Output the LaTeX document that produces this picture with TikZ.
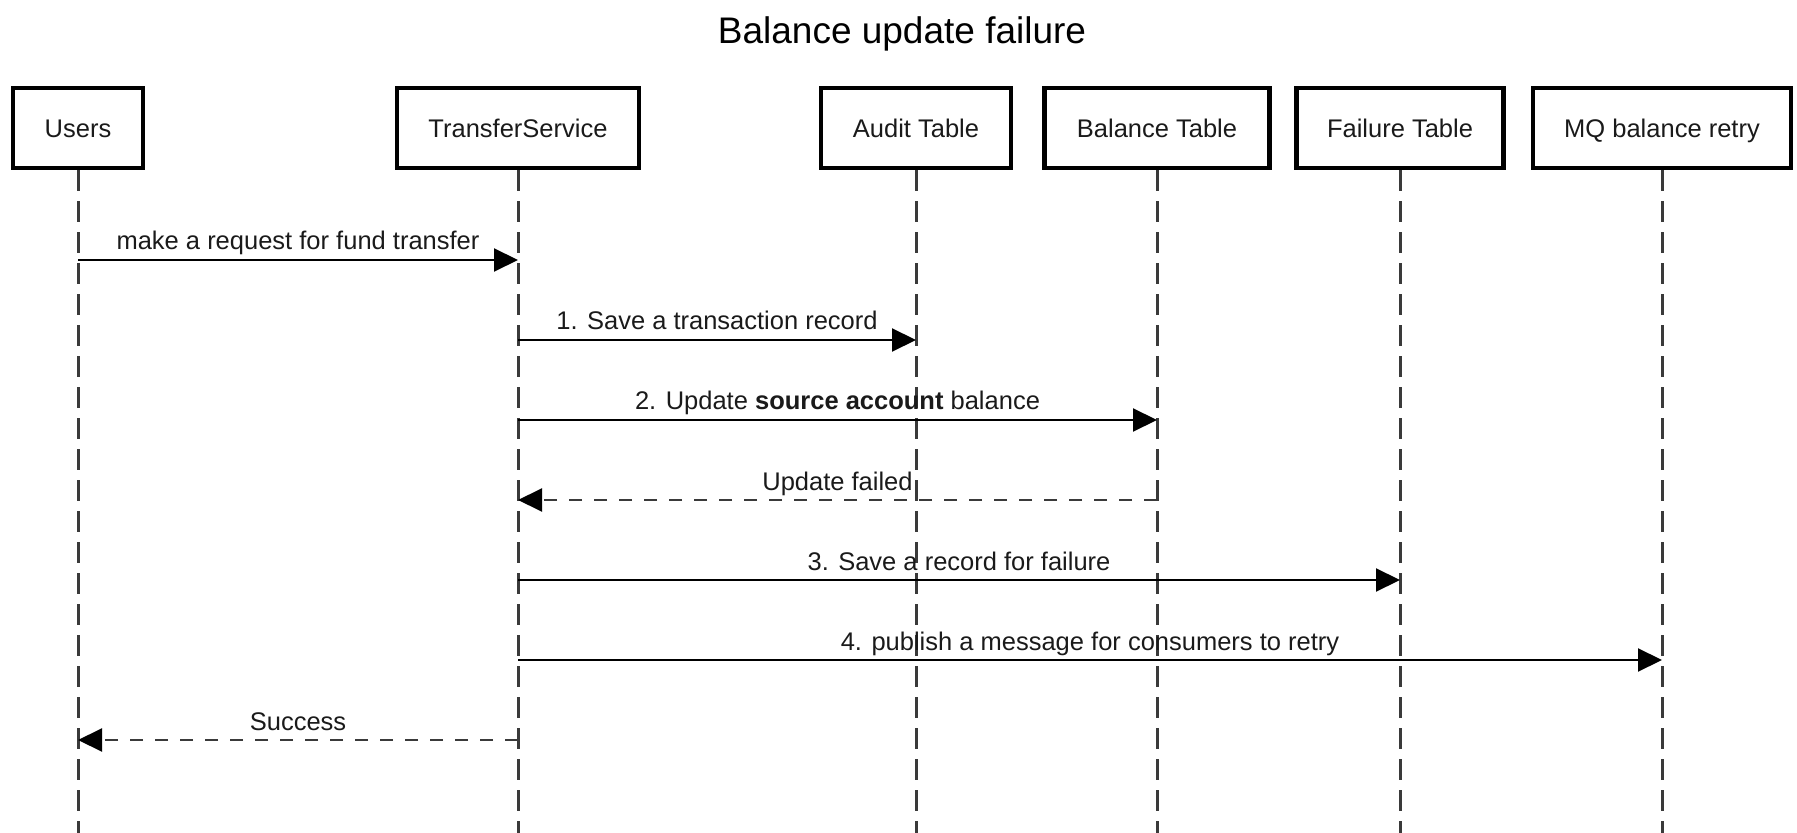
\documentclass[tikz,border=0pt]{standalone}
\usepackage{fontspec}
\setmainfont{Liberation Sans}
\usetikzlibrary{arrows.meta}
\definecolor{lifegray}{HTML}{3A3A3A}
\definecolor{dashgray}{HTML}{3A3A3A}
\definecolor{txt}{HTML}{1A1A1A}
\begin{document}
\begin{tikzpicture}[x=0.5pt,y=-0.5pt,
  actor/.style={draw=black, line width=2.1pt, minimum height=40pt, text height=9.2pt, text depth=0pt,
    inner sep=0pt, text=txt, font=\fontsize{12.75pt}{15pt}\selectfont},
  life/.style={draw=lifegray, line width=1.5pt, dash pattern=on 10.5pt off 5pt},
  msg/.style={draw=black, line width=1pt, -{Triangle[length=12pt,width=11.5pt,color=black]}},
  ret/.style={msg, draw=dashgray, dash pattern=on 6.5pt off 6pt},
  lbl/.style={anchor=base, inner sep=0pt, text=txt, font=\fontsize{12.75pt}{15pt}\selectfont}]
\useasboundingbox (0,0) rectangle (1797,833);

\node[anchor=base, text=black, font=\fontsize{18.5pt}{22pt}\selectfont] (title) at (902,44) {Balance update failure};

\node[actor, minimum width=65pt]    (u)  at (78,128)   {Users};
\node[actor, minimum width=121pt]   (ts) at (518,128)  {TransferService};
\node[actor, minimum width=95pt]    (au) at (916,128)  {Audit Table};
\node[actor, minimum width=112.5pt] (ba) at (1157,128) {Balance Table};
\node[actor, minimum width=103.5pt] (fa) at (1400,128) {Failure Table};
\node[actor, minimum width=129pt]   (mq) at (1662,128) {MQ balance retry};

\coordinate (bot) at (0,833);
\foreach \n in {u,ts,au,ba,fa,mq}{
  \draw[life] (\n.south) -- (\n.south |- bot);
}

\coordinate (r1) at (0,260);
\coordinate (r2) at (0,340);
\coordinate (r3) at (0,420);
\coordinate (r4) at (0,500);
\coordinate (r5) at (0,580);
\coordinate (r6) at (0,660);
\coordinate (r7) at (0,740);

\draw[msg] (u |- r1) -- node[lbl, pos=0.5, yshift=5pt] (l1) {make a request for fund transfer} (ts |- r1);
\draw[msg] (ts |- r2) -- node[lbl, pos=0.5, yshift=5pt] (l2) {1. Save a transaction record} (au |- r2);
\draw[msg] (ts |- r3) -- node[lbl, pos=0.5, yshift=5pt] (l3) {2. Update \textbf{source account} balance} (ba |- r3);
\draw[ret] (ba |- r4) -- node[lbl, pos=0.5, yshift=5pt] (l4) {Update failed} (ts |- r4);
\draw[msg] (ts |- r5) -- node[lbl, pos=0.5, yshift=5pt] (l5) {3. Save a record for failure} (fa |- r5);
\draw[msg] (ts |- r6) -- node[lbl, pos=0.5, yshift=5pt] (l6) {4. publish a message for consumers to retry} (mq |- r6);
\draw[ret] (ts |- r7) -- node[lbl, pos=0.5, yshift=5pt] (l7) {Success} (u |- r7);
\end{tikzpicture}
\end{document}
